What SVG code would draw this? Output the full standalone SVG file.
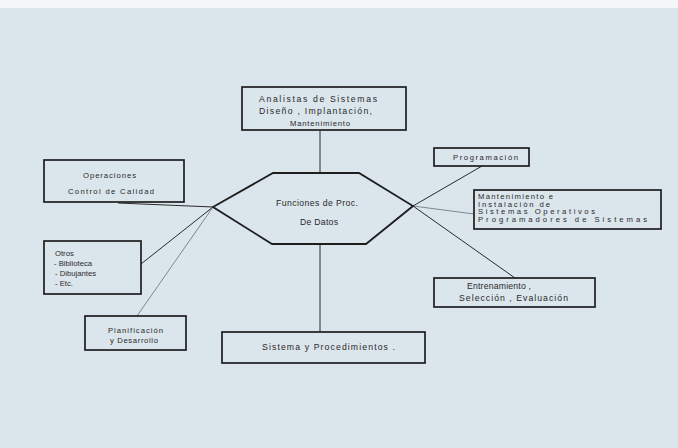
<svg xmlns="http://www.w3.org/2000/svg" width="678" height="448" viewBox="0 0 678 448">
<style>
.box{fill:none;stroke:#1e1e1e;stroke-width:1.7}
.hex{fill:none;stroke:#1e1e1e;stroke-width:1.8}
.ln{fill:none;stroke:#2a2a2a;stroke-width:1}
.lt{fill:none;stroke:#6a7074;stroke-width:0.8}
text{font-family:"Liberation Sans","DejaVu Sans",sans-serif;fill:#2a2a2a;font-size:8.7px}
.s{font-size:7.7px}
</style>
<rect x="0" y="0" width="678" height="448" fill="#dbe5ec"/>
<rect x="0" y="0" width="678" height="8" fill="#f4f6f7"/>
<g id="connectors">
<line class="ln" x1="320" y1="131" x2="320" y2="173"/>
<line class="ln" x1="320" y1="244" x2="320" y2="332"/>
<line class="ln" x1="213" y1="207" x2="118" y2="203"/>
<line class="ln" x1="213" y1="207" x2="141" y2="264"/>
<line class="lt" x1="213" y1="207" x2="137" y2="316"/>
<line class="ln" x1="413" y1="206" x2="482" y2="166"/>
<line class="lt" x1="413" y1="206" x2="474" y2="214"/>
<line class="ln" x1="413" y1="206" x2="515" y2="278"/>
</g>
<g id="analistas">
<rect class="box" x="242" y="87" width="164" height="43"/>
<text x="259" y="102" textLength="118" lengthAdjust="spacing">Analistas de Sistemas</text>
<text x="259" y="114" textLength="113" lengthAdjust="spacing">Diseño , Implantación,</text>
<text class="s" x="290" y="126" textLength="60" lengthAdjust="spacing">Mantenimiento</text>
</g>
<g id="funciones">
<polygon class="hex" points="273,173 359,173 413,206 366,244 272,244 213,207"/>
<text x="276" y="206" textLength="82" lengthAdjust="spacing">Funciones de Proc.</text>
<text x="300" y="225" textLength="38" lengthAdjust="spacing">De Datos</text>
</g>
<g id="operaciones">
<rect class="box" x="44" y="160" width="140" height="42"/>
<text class="s" x="83" y="178" textLength="53" lengthAdjust="spacing">Operaciones</text>
<text class="s" x="68" y="194" textLength="86" lengthAdjust="spacing">Control de Calidad</text>
</g>
<g id="otros">
<rect class="box" x="44" y="241" width="97" height="53"/>
<text class="s" x="55" y="256">Otros</text>
<text class="s" x="54" y="266">- Biblioteca</text>
<text class="s" x="55" y="276">- Dibujantes</text>
<text class="s" x="55" y="286">- Etc.</text>
</g>
<g id="planificacion">
<rect class="box" x="85" y="316" width="101" height="34"/>
<text class="s" x="108" y="333" textLength="55" lengthAdjust="spacing">Planificación</text>
<text class="s" x="110" y="343" textLength="48" lengthAdjust="spacing">y Desarrollo</text>
</g>
<g id="sistema">
<rect class="box" x="222" y="332" width="203" height="31"/>
<text x="262" y="350" textLength="133" lengthAdjust="spacing">Sistema y Procedimientos .</text>
</g>
<g id="programacion">
<rect class="box" x="434" y="148" width="95" height="18"/>
<text class="s" x="453" y="160" textLength="65" lengthAdjust="spacing">Programación</text>
</g>
<g id="mantenimiento">
<rect class="box" x="474" y="190" width="187" height="39"/>
<text class="s" x="478" y="199" textLength="75" lengthAdjust="spacing">Mantenimiento e</text>
<text class="s" x="478" y="206.5" textLength="72" lengthAdjust="spacing">Instalación de</text>
<text class="s" x="478" y="214" textLength="117" lengthAdjust="spacing">Sistemas Operativos</text>
<text class="s" x="478" y="221.5" textLength="169" lengthAdjust="spacing">Programadores de Sistemas</text>
</g>
<g id="entrenamiento">
<rect class="box" x="434" y="278" width="161" height="29"/>
<text x="467" y="289" textLength="64" lengthAdjust="spacing">Entrenamiento ,</text>
<text x="459" y="301" textLength="109" lengthAdjust="spacing">Selección , Evaluación</text>
</g>
</svg>
